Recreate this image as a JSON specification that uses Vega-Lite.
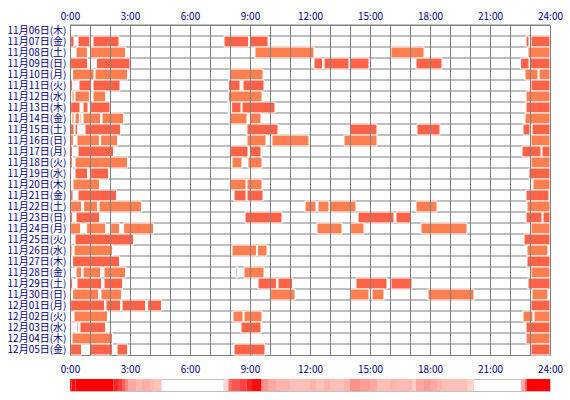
{
  "$schema": "https://vega.github.io/schema/vega-lite/v6.json",
  "background": "white",
  "padding": {"left": 6, "top": 10, "right": 5, "bottom": 5},
  "datasets": {
    "rows": [
      {"d": "11月06日(木)"}, {"d": "11月07日(金)"}, {"d": "11月08日(土)"}, {"d": "11月09日(日)"},
      {"d": "11月10日(月)"}, {"d": "11月11日(火)"}, {"d": "11月12日(水)"}, {"d": "11月13日(木)"},
      {"d": "11月14日(金)"}, {"d": "11月15日(土)"}, {"d": "11月16日(日)"}, {"d": "11月17日(月)"},
      {"d": "11月18日(火)"}, {"d": "11月19日(水)"}, {"d": "11月20日(木)"}, {"d": "11月21日(金)"},
      {"d": "11月22日(土)"}, {"d": "11月23日(日)"}, {"d": "11月24日(月)"}, {"d": "11月25日(火)"},
      {"d": "11月26日(水)"}, {"d": "11月27日(木)"}, {"d": "11月28日(金)"}, {"d": "11月29日(土)"},
      {"d": "11月30日(日)"}, {"d": "12月01日(月)"}, {"d": "12月02日(火)"}, {"d": "12月03日(水)"},
      {"d": "12月04日(木)"}, {"d": "12月05日(金)"}
    ],
    "sleep": [
      {"d": "11月07日(金)", "s": 0.03, "e": 0.2, "k": "A"},
      {"d": "11月07日(金)", "s": 0.4, "e": 1.0, "k": "A"},
      {"d": "11月07日(金)", "s": 1.15, "e": 2.45, "k": "A"},
      {"d": "11月07日(金)", "s": 7.7, "e": 8.93, "k": "A"},
      {"d": "11月07日(金)", "s": 9.0, "e": 9.9, "k": "A"},
      {"d": "11月07日(金)", "s": 22.8, "e": 22.95, "k": "A"},
      {"d": "11月07日(金)", "s": 23.05, "e": 24, "k": "A"},

      {"d": "11月08日(土)", "s": 0.3, "e": 0.88, "k": "B"},
      {"d": "11月08日(土)", "s": 1.03, "e": 2.78, "k": "B"},
      {"d": "11月08日(土)", "s": 9.25, "e": 12.2, "k": "B"},
      {"d": "11月08日(土)", "s": 16.05, "e": 17.7, "k": "B"},
      {"d": "11月08日(土)", "s": 22.9, "e": 24, "k": "B"},

      {"d": "11月09日(日)", "s": 0.03, "e": 0.88, "k": "A"},
      {"d": "11月09日(日)", "s": 1.33, "e": 3.0, "k": "A"},
      {"d": "11月09日(日)", "s": 12.2, "e": 12.63, "k": "A"},
      {"d": "11月09日(日)", "s": 12.7, "e": 13.95, "k": "A"},
      {"d": "11月09日(日)", "s": 14.02, "e": 14.95, "k": "A"},
      {"d": "11月09日(日)", "s": 17.3, "e": 18.6, "k": "A"},
      {"d": "11月09日(日)", "s": 22.53, "e": 22.95, "k": "A"},
      {"d": "11月09日(日)", "s": 23.0, "e": 24, "k": "A"},

      {"d": "11月10日(月)", "s": 0.13, "e": 1.2, "k": "B"},
      {"d": "11月10日(月)", "s": 1.25, "e": 2.88, "k": "B"},
      {"d": "11月10日(月)", "s": 7.97, "e": 9.65, "k": "B"},
      {"d": "11月10日(月)", "s": 22.75, "e": 23.4, "k": "B"},
      {"d": "11月10日(月)", "s": 23.45, "e": 24, "k": "B"},

      {"d": "11月11日(火)", "s": 0.03, "e": 0.13, "k": "A"},
      {"d": "11月11日(火)", "s": 0.45, "e": 1.08, "k": "A"},
      {"d": "11月11日(火)", "s": 1.15, "e": 2.5, "k": "A"},
      {"d": "11月11日(火)", "s": 7.92, "e": 8.5, "k": "A"},
      {"d": "11月11日(火)", "s": 8.65, "e": 9.7, "k": "A"},
      {"d": "11月11日(火)", "s": 23.05, "e": 24, "k": "A"},

      {"d": "11月12日(水)", "s": 0.1, "e": 0.2, "k": "B"},
      {"d": "11月12日(水)", "s": 0.25, "e": 0.97, "k": "B"},
      {"d": "11月12日(水)", "s": 1.15, "e": 1.78, "k": "B"},
      {"d": "11月12日(水)", "s": 7.92, "e": 9.6, "k": "B"},
      {"d": "11月12日(水)", "s": 22.8, "e": 24, "k": "B"},

      {"d": "11月13日(木)", "s": 0.03, "e": 0.5, "k": "A"},
      {"d": "11月13日(木)", "s": 0.65, "e": 0.9, "k": "A"},
      {"d": "11月13日(木)", "s": 1.03, "e": 2.0, "k": "A"},
      {"d": "11月13日(木)", "s": 7.9, "e": 7.95, "k": "A"},
      {"d": "11月13日(木)", "s": 8.08, "e": 8.55, "k": "A"},
      {"d": "11月13日(木)", "s": 8.6, "e": 10.25, "k": "A"},
      {"d": "11月13日(木)", "s": 22.8, "e": 24, "k": "A"},

      {"d": "11月14日(金)", "s": 0.1, "e": 0.2, "k": "B"},
      {"d": "11月14日(金)", "s": 0.25, "e": 0.47, "k": "B"},
      {"d": "11月14日(金)", "s": 0.5, "e": 0.57, "k": "B"},
      {"d": "11月14日(金)", "s": 0.65, "e": 1.53, "k": "B"},
      {"d": "11月14日(金)", "s": 1.6, "e": 2.68, "k": "B"},
      {"d": "11月14日(金)", "s": 7.97, "e": 8.85, "k": "B"},
      {"d": "11月14日(金)", "s": 8.97, "e": 9.55, "k": "B"},
      {"d": "11月14日(金)", "s": 22.75, "e": 24, "k": "B"},

      {"d": "11月15日(土)", "s": 0.03, "e": 0.2, "k": "A"},
      {"d": "11月15日(土)", "s": 0.25, "e": 0.38, "k": "A"},
      {"d": "11月15日(土)", "s": 0.75, "e": 2.53, "k": "A"},
      {"d": "11月15日(土)", "s": 8.85, "e": 10.4, "k": "A"},
      {"d": "11月15日(土)", "s": 14.02, "e": 15.35, "k": "A"},
      {"d": "11月15日(土)", "s": 17.35, "e": 18.5, "k": "A"},
      {"d": "11月15日(土)", "s": 22.65, "e": 23.0, "k": "A"},
      {"d": "11月15日(土)", "s": 23.1, "e": 24, "k": "A"},

      {"d": "11月16日(日)", "s": 0.03, "e": 0.17, "k": "B"},
      {"d": "11月16日(日)", "s": 0.35, "e": 1.47, "k": "B"},
      {"d": "11月16日(日)", "s": 1.53, "e": 2.38, "k": "B"},
      {"d": "11月16日(日)", "s": 8.85, "e": 9.8, "k": "B"},
      {"d": "11月16日(日)", "s": 10.1, "e": 11.95, "k": "B"},
      {"d": "11月16日(日)", "s": 13.7, "e": 15.35, "k": "B"},
      {"d": "11月16日(日)", "s": 23.05, "e": 24, "k": "B"},

      {"d": "11月17日(月)", "s": 0.03, "e": 0.13, "k": "A"},
      {"d": "11月17日(月)", "s": 0.4, "e": 2.18, "k": "A"},
      {"d": "11月17日(月)", "s": 8.03, "e": 8.9, "k": "A"},
      {"d": "11月17日(月)", "s": 9.0, "e": 9.55, "k": "A"},
      {"d": "11月17日(月)", "s": 22.6, "e": 23.55, "k": "A"},
      {"d": "11月17日(月)", "s": 23.6, "e": 24, "k": "A"},

      {"d": "11月18日(火)", "s": 0.03, "e": 0.13, "k": "B"},
      {"d": "11月18日(火)", "s": 0.25, "e": 2.88, "k": "B"},
      {"d": "11月18日(火)", "s": 8.1, "e": 8.6, "k": "B"},
      {"d": "11月18日(火)", "s": 8.9, "e": 9.6, "k": "B"},
      {"d": "11月18日(火)", "s": 23.05, "e": 24, "k": "B"},

      {"d": "11月19日(水)", "s": 0.08, "e": 0.13, "k": "A"},
      {"d": "11月19日(水)", "s": 0.25, "e": 0.88, "k": "A"},
      {"d": "11月19日(水)", "s": 1.03, "e": 1.93, "k": "A"},
      {"d": "11月19日(水)", "s": 22.95, "e": 24, "k": "A"},

      {"d": "11月20日(木)", "s": 0.08, "e": 0.13, "k": "B"},
      {"d": "11月20日(木)", "s": 0.15, "e": 1.48, "k": "B"},
      {"d": "11月20日(木)", "s": 7.97, "e": 8.8, "k": "B"},
      {"d": "11月20日(木)", "s": 8.85, "e": 9.6, "k": "B"},
      {"d": "11月20日(木)", "s": 23.15, "e": 24, "k": "B"},

      {"d": "11月21日(金)", "s": 0.03, "e": 0.15, "k": "A"},
      {"d": "11月21日(金)", "s": 0.4, "e": 2.33, "k": "A"},
      {"d": "11月21日(金)", "s": 8.2, "e": 8.8, "k": "A"},
      {"d": "11月21日(金)", "s": 8.85, "e": 9.65, "k": "A"},
      {"d": "11月21日(金)", "s": 22.8, "e": 23.95, "k": "A"},

      {"d": "11月22日(土)", "s": 0.03, "e": 0.58, "k": "B"},
      {"d": "11月22日(土)", "s": 0.68, "e": 1.38, "k": "B"},
      {"d": "11月22日(土)", "s": 1.45, "e": 3.58, "k": "B"},
      {"d": "11月22日(土)", "s": 11.75, "e": 12.3, "k": "B"},
      {"d": "11月22日(土)", "s": 12.4, "e": 12.95, "k": "B"},
      {"d": "11月22日(土)", "s": 13.0, "e": 14.3, "k": "B"},
      {"d": "11月22日(土)", "s": 17.3, "e": 18.35, "k": "B"},
      {"d": "11月22日(土)", "s": 22.85, "e": 24, "k": "B"},

      {"d": "11月23日(日)", "s": 0.03, "e": 0.13, "k": "A"},
      {"d": "11月23日(日)", "s": 0.3, "e": 1.48, "k": "A"},
      {"d": "11月23日(日)", "s": 8.75, "e": 10.6, "k": "A"},
      {"d": "11月23日(日)", "s": 14.4, "e": 16.2, "k": "A"},
      {"d": "11月23日(日)", "s": 16.3, "e": 17.05, "k": "A"},
      {"d": "11月23日(日)", "s": 22.8, "e": 23.6, "k": "A"},
      {"d": "11月23日(日)", "s": 23.65, "e": 24, "k": "A"},

      {"d": "11月24日(月)", "s": 0.03, "e": 0.53, "k": "B"},
      {"d": "11月24日(月)", "s": 0.83, "e": 1.78, "k": "B"},
      {"d": "11月24日(月)", "s": 2.03, "e": 2.48, "k": "B"},
      {"d": "11月24日(月)", "s": 2.68, "e": 4.18, "k": "B"},
      {"d": "11月24日(月)", "s": 12.35, "e": 13.6, "k": "B"},
      {"d": "11月24日(月)", "s": 14.03, "e": 14.7, "k": "B"},
      {"d": "11月24日(月)", "s": 17.55, "e": 19.85, "k": "B"},
      {"d": "11月24日(月)", "s": 23.05, "e": 24, "k": "B"},

      {"d": "11月25日(火)", "s": 0.25, "e": 3.18, "k": "A"},
      {"d": "11月25日(火)", "s": 22.7, "e": 24, "k": "A"},

      {"d": "11月26日(水)", "s": 0.05, "e": 0.13, "k": "B"},
      {"d": "11月26日(水)", "s": 0.2, "e": 2.13, "k": "B"},
      {"d": "11月26日(水)", "s": 8.1, "e": 9.33, "k": "B"},
      {"d": "11月26日(水)", "s": 9.38, "e": 9.85, "k": "B"},
      {"d": "11月26日(水)", "s": 22.85, "e": 23.9, "k": "B"},

      {"d": "11月27日(木)", "s": 0.13, "e": 2.48, "k": "A"},
      {"d": "11月27日(木)", "s": 22.85, "e": 24, "k": "A"},

      {"d": "11月28日(金)", "s": 0.3, "e": 0.58, "k": "B"},
      {"d": "11月28日(金)", "s": 0.65, "e": 1.53, "k": "B"},
      {"d": "11月28日(金)", "s": 1.7, "e": 2.78, "k": "B"},
      {"d": "11月28日(金)", "s": 8.3, "e": 8.38, "k": "B"},
      {"d": "11月28日(金)", "s": 8.7, "e": 9.7, "k": "B"},
      {"d": "11月28日(金)", "s": 23.05, "e": 24, "k": "B"},

      {"d": "11月29日(土)", "s": 0.03, "e": 0.13, "k": "A"},
      {"d": "11月29日(土)", "s": 0.35, "e": 1.58, "k": "A"},
      {"d": "11月29日(土)", "s": 1.7, "e": 2.63, "k": "A"},
      {"d": "11月29日(土)", "s": 9.4, "e": 10.33, "k": "A"},
      {"d": "11月29日(土)", "s": 10.4, "e": 11.13, "k": "A"},
      {"d": "11月29日(土)", "s": 14.3, "e": 15.85, "k": "A"},
      {"d": "11月29日(土)", "s": 16.05, "e": 17.1, "k": "A"},
      {"d": "11月29日(土)", "s": 22.9, "e": 24, "k": "A"},

      {"d": "11月30日(日)", "s": 0.13, "e": 1.43, "k": "B"},
      {"d": "11月30日(日)", "s": 1.55, "e": 2.58, "k": "B"},
      {"d": "11月30日(日)", "s": 10.03, "e": 11.25, "k": "B"},
      {"d": "11月30日(日)", "s": 14.03, "e": 14.95, "k": "B"},
      {"d": "11月30日(日)", "s": 15.1, "e": 15.7, "k": "B"},
      {"d": "11月30日(日)", "s": 17.9, "e": 20.2, "k": "B"},
      {"d": "11月30日(日)", "s": 23.1, "e": 23.9, "k": "B"},

      {"d": "12月01日(月)", "s": 0.03, "e": 1.73, "k": "A"},
      {"d": "12月01日(月)", "s": 1.8, "e": 2.53, "k": "A"},
      {"d": "12月01日(月)", "s": 2.6, "e": 3.78, "k": "A"},
      {"d": "12月01日(月)", "s": 3.88, "e": 4.58, "k": "A"},
      {"d": "12月01日(月)", "s": 23.05, "e": 24, "k": "A"},

      {"d": "12月02日(火)", "s": 0.2, "e": 1.88, "k": "B"},
      {"d": "12月02日(火)", "s": 8.15, "e": 8.65, "k": "B"},
      {"d": "12月02日(火)", "s": 8.7, "e": 9.6, "k": "B"},
      {"d": "12月02日(火)", "s": 22.65, "e": 23.15, "k": "B"},
      {"d": "12月02日(火)", "s": 23.2, "e": 24, "k": "B"},

      {"d": "12月03日(水)", "s": 0.07, "e": 0.13, "k": "A"},
      {"d": "12月03日(水)", "s": 0.35, "e": 0.43, "k": "A"},
      {"d": "12月03日(水)", "s": 0.5, "e": 1.78, "k": "A"},
      {"d": "12月03日(水)", "s": 8.55, "e": 9.55, "k": "A"},
      {"d": "12月03日(水)", "s": 22.8, "e": 24, "k": "A"},

      {"d": "12月04日(木)", "s": 0.1, "e": 2.13, "k": "B"},
      {"d": "12月04日(木)", "s": 22.8, "e": 24, "k": "B"},

      {"d": "12月05日(金)", "s": 0.03, "e": 0.58, "k": "A"},
      {"d": "12月05日(金)", "s": 1.0, "e": 2.13, "k": "A"},
      {"d": "12月05日(金)", "s": 2.35, "e": 2.88, "k": "A"},
      {"d": "12月05日(金)", "s": 8.2, "e": 9.75, "k": "A"},
      {"d": "12月05日(金)", "s": 23.05, "e": 24, "k": "A"}
    ],
    "strip": [
      {"s": 0.0, "e": 0.07, "v": 0.85},
      {"s": 0.07, "e": 0.27, "v": 0.95},
      {"s": 0.27, "e": 2.17, "v": 1.0},
      {"s": 2.17, "e": 2.4, "v": 0.85},
      {"s": 2.4, "e": 2.6, "v": 0.75},
      {"s": 2.6, "e": 2.75, "v": 0.6},
      {"s": 2.75, "e": 2.9, "v": 0.45},
      {"s": 2.9, "e": 3.3, "v": 0.3},
      {"s": 3.3, "e": 3.6, "v": 0.22},
      {"s": 3.6, "e": 4.0, "v": 0.28},
      {"s": 4.0, "e": 4.2, "v": 0.22},
      {"s": 4.2, "e": 4.58, "v": 0.18},
      {"s": 7.67, "e": 7.92, "v": 0.1},
      {"s": 7.92, "e": 8.1, "v": 0.55},
      {"s": 8.1, "e": 8.5, "v": 0.65},
      {"s": 8.5, "e": 8.83, "v": 0.72},
      {"s": 8.83, "e": 9.1, "v": 0.85},
      {"s": 9.1, "e": 9.58, "v": 0.95},
      {"s": 9.58, "e": 9.9, "v": 0.4},
      {"s": 9.9, "e": 10.3, "v": 0.3},
      {"s": 10.3, "e": 11.0, "v": 0.25},
      {"s": 11.0, "e": 12.0, "v": 0.2},
      {"s": 12.0, "e": 12.3, "v": 0.25},
      {"s": 12.3, "e": 12.7, "v": 0.2},
      {"s": 12.7, "e": 13.0, "v": 0.25},
      {"s": 13.0, "e": 13.7, "v": 0.2},
      {"s": 13.7, "e": 14.0, "v": 0.25},
      {"s": 14.0, "e": 14.5, "v": 0.4},
      {"s": 14.5, "e": 15.0, "v": 0.35},
      {"s": 15.0, "e": 15.35, "v": 0.3},
      {"s": 15.35, "e": 16.0, "v": 0.2},
      {"s": 16.0, "e": 16.3, "v": 0.25},
      {"s": 16.3, "e": 17.1, "v": 0.22},
      {"s": 17.1, "e": 17.3, "v": 0.15},
      {"s": 17.3, "e": 17.7, "v": 0.3},
      {"s": 17.7, "e": 18.0, "v": 0.35},
      {"s": 18.0, "e": 18.35, "v": 0.3},
      {"s": 18.35, "e": 18.6, "v": 0.25},
      {"s": 18.6, "e": 19.85, "v": 0.2},
      {"s": 19.85, "e": 20.2, "v": 0.12},
      {"s": 22.55, "e": 22.75, "v": 0.3},
      {"s": 22.75, "e": 22.85, "v": 0.6},
      {"s": 22.85, "e": 24, "v": 1.0}
    ]
  },
  "vconcat": [
    {
      "width": 480,
      "height": 330,
      "view": {"stroke": "#808080"},
      "layer": [
        {
          "data": {"name": "rows"},
          "mark": {"type": "rule", "color": "#808080", "strokeWidth": 1},
          "encoding": {
            "y": {"field": "d", "type": "nominal", "bandPosition": 0, "title": null}
          }
        },
        {
          "data": {"name": "sleep"},
          "mark": {"type": "bar", "stroke": "white", "strokeWidth": 1},
          "encoding": {
            "x": {
              "field": "s",
              "type": "quantitative",
              "scale": {"domain": [0, 24], "nice": false},
              "title": null,
              "axis": {
                "orient": "top",
                "values": [0, 1, 2, 3, 4, 5, 6, 7, 8, 9, 10, 11, 12, 13, 14, 15, 16, 17, 18, 19, 20, 21, 22, 23, 24],
                "labelExpr": "datum.value % 3 === 0 ? datum.value + ':00' : ''",
                "grid": true,
                "gridColor": "#808080",
                "gridOpacity": 1,
                "gridWidth": 1,
                "zindex": 1,
                "labelPadding": 4
              }
            },
            "x2": {"field": "e"},
            "y": {
              "field": "d",
              "type": "nominal",
              "title": null,
              "scale": {"paddingInner": 0, "paddingOuter": 0},
              "axis": {"labelPadding": 4}
            },
            "color": {
              "field": "k",
              "type": "nominal",
              "scale": {"domain": ["A", "B"], "range": ["#FF6347", "#FF7F50"]},
              "legend": null
            }
          }
        }
      ]
    },
    {
      "width": 480,
      "height": 12,
      "view": {"stroke": "#C0C0C0"},
      "data": {"name": "strip"},
      "mark": {"type": "rect"},
      "encoding": {
        "x": {
          "field": "s",
          "type": "quantitative",
          "scale": {"domain": [0, 24], "nice": false},
          "title": null,
          "axis": {
            "orient": "top",
            "values": [0, 3, 6, 9, 12, 15, 18, 21, 24],
            "labelExpr": "datum.value + ':00'",
            "labelPadding": 5
          }
        },
        "x2": {"field": "e"},
        "color": {
          "field": "v",
          "type": "quantitative",
          "scale": {"domain": [0, 1], "range": ["#FFF0E6", "#FF0000"], "interpolate": "rgb"},
          "legend": null
        }
      }
    }
  ],
  "spacing": 7,
  "config": {
    "axis": {
      "ticks": false,
      "domain": false,
      "grid": false,
      "labelColor": "#000080",
      "labelFont": "Noto Sans CJK JP",
      "labelFontSize": 10,
      "labelFlush": false,
      "labelOverlap": false
    }
  }
}
